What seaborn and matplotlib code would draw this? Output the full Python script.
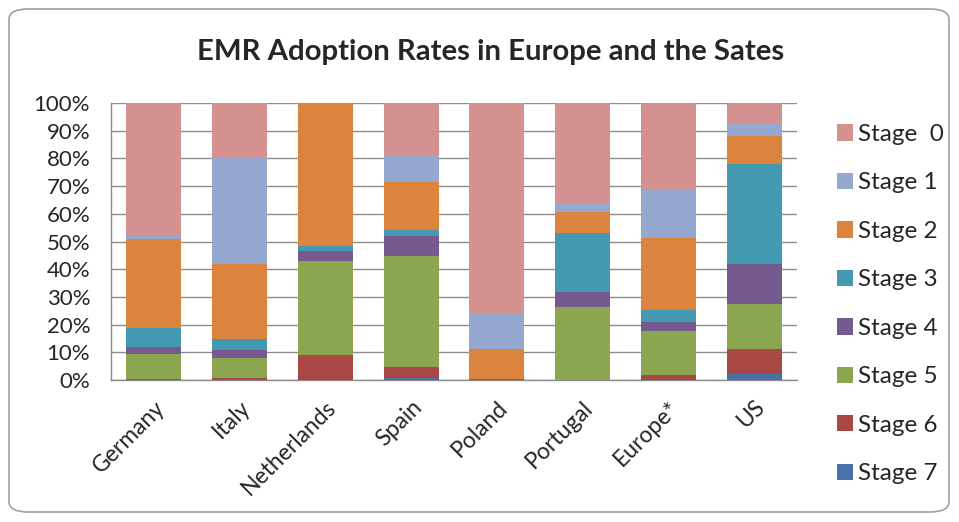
import matplotlib
matplotlib.use("Agg")
import matplotlib.pyplot as plt
import seaborn as sns
import numpy as np
import pandas as pd
from matplotlib.patches import Patch, FancyBboxPatch

countries = ["Germany", "Italy", "Netherlands", "Spain", "Poland", "Portugal", "Europe*", "US"]
stages = ["Stage  0", "Stage 1", "Stage 2", "Stage 3", "Stage 4", "Stage 5", "Stage 6", "Stage 7"]

stage0 = [48.0, 20.0, 0.0, 18.6, 75.9, 36.6, 31.3, 7.7]
stage1 = [1.2, 38.3, 0.0, 10.1, 13.0, 2.7, 17.6, 4.1]
stage2 = [32.0, 27.0, 51.8, 17.3, 10.6, 7.8, 26.0, 10.1]
stage3 = [7.0, 3.9, 1.7, 2.0, 0.0, 21.1, 4.1, 36.2]
stage4 = [2.4, 2.8, 3.6, 7.4, 0.0, 5.3, 3.4, 14.4]
stage5 = [9.1, 7.3, 33.9, 40.0, 0.0, 26.5, 15.7, 16.2]
stage6 = [0.0, 0.7, 9.0, 3.9, 0.0, 0.0, 1.9, 9.1]
stage7 = [0.3, 0.0, 0.0, 0.7, 0.5, 0.0, 0.0, 2.2]

colors = ["#D4918F", "#95A9D0", "#DC843E", "#4299B0", "#745A8E", "#8AA64E", "#A84744", "#4672A8"]

series = [stage0, stage1, stage2, stage3, stage4, stage5, stage6, stage7]

sns.set_style("white")
plt.rcParams["font.family"] = ["Lato", "DejaVu Sans"]

fig = plt.figure(figsize=(9.59, 5.22), dpi=100)
ax = fig.add_axes([111/959, 1-380/522, (797-111)/959, (380-103)/522])

# Stacked bars via cumulative totals drawn from the top stage down
vals = np.array(series)
cum_from_bottom = np.cumsum(vals[::-1], axis=0)[::-1]
for i, st in enumerate(stages):
    df = pd.DataFrame({"country": countries, "value": cum_from_bottom[i]})
    sns.barplot(data=df, x="country", y="value", color=colors[i], width=0.64,
                saturation=1, ax=ax, zorder=3, edgecolor="none", linewidth=0)

ax.set_ylim(0, 100)
ax.set_xlim(-0.5, 7.5)
ax.set_yticks(np.arange(0, 101, 10))
ax.set_yticklabels([f"{v}%" for v in range(0, 101, 10)], fontsize=16)
ax.set_xticks(range(len(countries)))
ax.set_xticklabels(countries, rotation=45, ha="right", rotation_mode="anchor", fontsize=16.5)
ax.tick_params(axis="x", pad=12, length=0)
ax.tick_params(axis="y", pad=15, length=0)
ax.set_xlabel("")
ax.set_ylabel("")
ax.yaxis.grid(True, color="#8C8C8C", linewidth=1.0, zorder=0)
ax.set_axisbelow(True)
for s in ["top", "right"]:
    ax.spines[s].set_visible(False)
for s in ["left", "bottom"]:
    ax.spines[s].set_color("#8C8C8C")
    ax.spines[s].set_linewidth(1.0)

handles = [Patch(facecolor=c, edgecolor="none") for c in colors]
leg = fig.legend(handles, stages, loc="upper left", bbox_to_anchor=(837/959, 1-124/522),
                 frameon=False, fontsize=17.5, handlelength=0.66, handleheight=0.66,
                 handletextpad=0.22, labelspacing=1.13, borderpad=0, borderaxespad=0)

fig.text(491/959, 1-52/522, "EMR Adoption Rates in Europe and the Sates",
         ha="center", va="center", fontsize=21.2, fontweight="bold")

border = FancyBboxPatch((9/959, 10/522), 940/959, 503/522, boxstyle="round,pad=0,rounding_size=0.02",
                        transform=fig.transFigure, facecolor="none", edgecolor="#A0A0A0", linewidth=1.2)
fig.patches.append(border)

fig.savefig("out.png", dpi=100)
